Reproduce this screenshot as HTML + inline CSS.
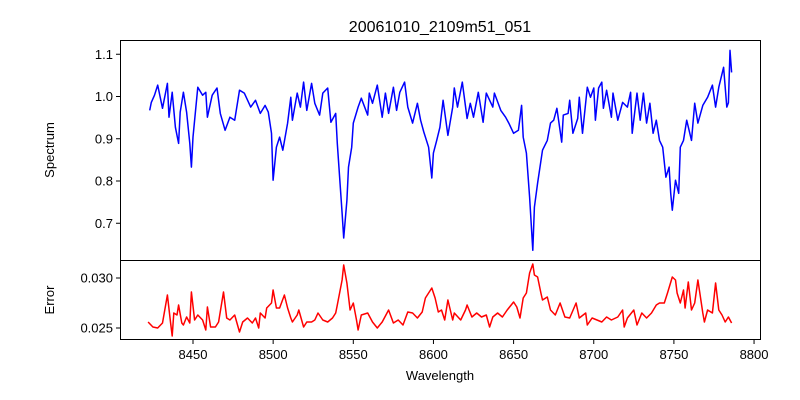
<!DOCTYPE html>
<html><head><meta charset="utf-8"><style>
html,body{margin:0;padding:0;background:#fff;}
svg{display:block;font-family:"Liberation Sans","DejaVu Sans",sans-serif;}
</style></head><body>
<svg id="chart" width="800" height="400" viewBox="0 0 800 400" xmlns="http://www.w3.org/2000/svg">
<rect width="800" height="400" fill="#fff"/>
<text x="440" y="32" font-size="16" text-anchor="middle">20061010_2109m51_051</text>
<text transform="translate(54,150) rotate(-90)" font-size="13" text-anchor="middle">Spectrum</text>
<text transform="translate(54,300) rotate(-90)" font-size="13" text-anchor="middle">Error</text>
<text x="440" y="380" font-size="13" text-anchor="middle">Wavelength</text>
<g id="topPanel"></g>
<g id="botPanel"></g>
</svg>
<script>
const specWave=[8423,8424,8426,8428,8431,8434,8435,8437,8439,8441,8442,8444,8446,8448,8449,8450,8453,8456,8458,8459,8462,8465,8467,8470,8473,8476,8479,8482,8486,8489,8492,8495,8497,8499,8500,8502,8504,8506,8509,8511,8512,8515,8517,8519,8521,8524,8526,8529,8531,8534,8536,8539,8540,8543,8544,8546,8547,8549,8550,8553,8555,8559,8560,8562,8565,8568,8570,8572,8575,8577,8579,8582,8584,8587,8590,8592,8594,8597,8599,8600,8602,8604,8606,8609,8612,8613,8615,8618,8621,8623,8625,8628,8631,8633,8637,8638,8642,8645,8647,8650,8653,8655,8656,8658,8660,8662,8663,8665,8668,8671,8673,8675,8677,8680,8681,8684,8685,8687,8690,8691,8693,8696,8698,8700,8701,8703,8705,8706,8708,8711,8712,8715,8718,8721,8723,8724,8727,8729,8731,8733,8735,8737,8739,8741,8743,8745,8747,8748,8749,8751,8753,8754,8756,8758,8761,8763,8765,8768,8771,8774,8776,8778,8781,8783,8784,8785,8786];
const specFlux=[0.967,0.986,1.003,1.027,0.972,1.031,0.951,1.01,0.927,0.889,0.963,1.01,0.963,0.889,0.833,0.904,1.022,1.003,1.01,0.951,1.003,1.02,0.96,0.92,0.951,0.944,1.015,1.008,0.975,0.991,0.96,0.979,0.963,0.913,0.802,0.88,0.904,0.873,0.937,0.998,0.944,1.008,0.975,1.034,0.967,1.031,0.984,0.956,1.008,1.02,0.939,0.96,0.889,0.724,0.665,0.754,0.833,0.88,0.937,0.975,0.996,0.956,1.008,0.984,1.027,0.951,1.008,0.96,1.022,0.967,1.01,1.034,0.975,0.937,0.984,0.944,0.916,0.88,0.807,0.866,0.896,0.927,0.991,0.908,0.975,1.02,0.975,1.034,0.948,0.984,0.951,1.01,0.939,1.008,0.975,1.008,0.967,0.951,0.937,0.913,0.92,0.979,0.904,0.866,0.762,0.636,0.738,0.795,0.873,0.896,0.937,0.944,0.972,0.892,0.956,0.96,0.991,0.913,0.948,0.998,0.913,1.022,0.998,1.02,0.944,1.02,1.034,0.972,1.015,0.951,1.008,0.944,0.986,0.975,1.01,0.913,1.008,0.944,1.008,0.937,0.984,0.913,0.944,0.896,0.88,0.809,0.833,0.771,0.731,0.802,0.771,0.88,0.896,0.944,0.896,0.984,0.937,0.979,0.998,1.027,0.975,1.022,1.069,0.975,0.985,1.109,1.057];
const errWave=[8422,8425,8428,8431,8434,8436,8437,8438,8440,8441,8443,8444,8446,8448,8449,8451,8453,8456,8458,8459,8461,8464,8466,8469,8471,8473,8476,8479,8481,8484,8487,8489,8491,8492,8495,8496,8499,8500,8502,8504,8507,8509,8511,8512,8515,8516,8519,8521,8524,8526,8528,8531,8534,8537,8539,8540,8543,8544,8546,8548,8550,8552,8553,8555,8559,8562,8565,8568,8572,8575,8578,8581,8584,8587,8590,8593,8595,8599,8601,8603,8605,8607,8609,8612,8613,8617,8620,8621,8624,8627,8630,8633,8635,8637,8640,8643,8646,8650,8652,8654,8656,8658,8660,8662,8663,8665,8667,8668,8671,8673,8676,8679,8682,8685,8689,8691,8695,8696,8699,8702,8705,8708,8711,8715,8718,8719,8721,8725,8727,8730,8733,8736,8739,8741,8744,8746,8749,8751,8752,8754,8756,8757,8759,8761,8763,8765,8768,8769,8771,8774,8776,8778,8780,8782,8784,8786];
const errVals=[0.0256,0.0251,0.0250,0.0255,0.0283,0.0255,0.0242,0.0265,0.0263,0.0273,0.0255,0.0253,0.0261,0.0255,0.0286,0.0258,0.0263,0.0258,0.0248,0.0271,0.0251,0.0251,0.0256,0.0286,0.0260,0.0258,0.0263,0.0246,0.0256,0.0260,0.0255,0.0260,0.0250,0.0265,0.0260,0.0270,0.0275,0.0288,0.0270,0.0270,0.0283,0.0270,0.0260,0.0256,0.0263,0.0268,0.0251,0.0256,0.0256,0.0258,0.0265,0.0258,0.0256,0.0260,0.0265,0.0273,0.0298,0.0313,0.0295,0.0268,0.0275,0.0258,0.0248,0.0263,0.0265,0.0256,0.0250,0.0256,0.0268,0.0255,0.0258,0.0253,0.0266,0.0265,0.0260,0.0266,0.0280,0.0290,0.0280,0.0266,0.0268,0.0258,0.0278,0.0258,0.0265,0.0258,0.0268,0.0273,0.0261,0.0265,0.0261,0.0263,0.0251,0.0261,0.0265,0.0261,0.0268,0.0276,0.0271,0.0260,0.0280,0.0285,0.0305,0.0314,0.0303,0.0301,0.0285,0.0278,0.0281,0.0268,0.0263,0.0275,0.0261,0.0260,0.0275,0.0260,0.0265,0.0253,0.0260,0.0258,0.0256,0.0261,0.0258,0.0261,0.0268,0.0251,0.0260,0.0268,0.0253,0.0265,0.0260,0.0265,0.0273,0.0275,0.0275,0.0285,0.0301,0.0298,0.0285,0.0275,0.0288,0.0270,0.0296,0.0268,0.0275,0.0298,0.0265,0.0256,0.0268,0.0265,0.0295,0.0268,0.0263,0.0256,0.0261,0.0255];
const xTicks=[8450,8500,8550,8600,8650,8700,8750,8800];
const specTicks=[0.7,0.8,0.9,1.0,1.1];
const specTickLabels=["0.7","0.8","0.9","1.0","1.1"];
const errTicks=[0.025,0.030];
const errTickLabels=["0.025","0.030"];

const NS="http://www.w3.org/2000/svg";
const X=w=>193+(w-8450)*1.603;
const YS=v=>96.5-(v-1.0)*422.5;
const YE=v=>328-(v-0.025)*10000;
function mk(tag,attrs,parent){const e=document.createElementNS(NS,tag);for(const k in attrs)e.setAttribute(k,attrs[k]);parent.appendChild(e);return e;}
const topG=document.getElementById('topPanel'),botG=document.getElementById('botPanel');

function drawLine(xs,ys,fy,color,parent,name){
  const n=Math.min(xs.length,ys.length);
  let d='';
  for(let i=0;i<n;i++){d+=(i?'L':'M')+X(xs[i]).toFixed(1)+' '+fy(ys[i]).toFixed(1);}
  const p=mk('path',{d:d,fill:'none',stroke:color,'stroke-width':1.5,'stroke-linejoin':'round'},parent);
  
  
}
drawLine(specWave,specFlux,YS,'#0000ff',topG,'spectrum-line');
drawLine(errWave,errVals,YE,'#ff0000',botG,'error-line');

const f1=mk('rect',{x:120.5,y:40.5,width:640,height:220,fill:'none',stroke:'#000','stroke-width':1},topG);


const f2=mk('rect',{x:120.5,y:260.5,width:640,height:79,fill:'none',stroke:'#000','stroke-width':1},botG);



specTicks.forEach((v,i)=>{
  const y=YS(v);
  const t=mk('line',{x1:116,x2:120,y1:y,y2:y,stroke:'#000'},topG);
  
  
  const l=mk('text',{x:113,y:y+4.5,'font-size':13,'text-anchor':'end'},topG);
  l.textContent=specTickLabels[i];
  
  
});
errTicks.forEach((v,i)=>{
  const y=YE(v);
  const t=mk('line',{x1:116,x2:120,y1:y,y2:y,stroke:'#000'},botG);
  
  
  const l=mk('text',{x:113,y:y+4.5,'font-size':13,'text-anchor':'end'},botG);
  l.textContent=errTickLabels[i];
  
  
});
xTicks.forEach(w=>{
  const x=X(w);
  const t=mk('line',{x1:x,x2:x,y1:340,y2:344,stroke:'#000'},botG);
  
  
  const l=mk('text',{x:x,y:359,'font-size':13,'text-anchor':'middle'},botG);
  l.textContent=String(w);
  
  
});
</script>
</body></html>
